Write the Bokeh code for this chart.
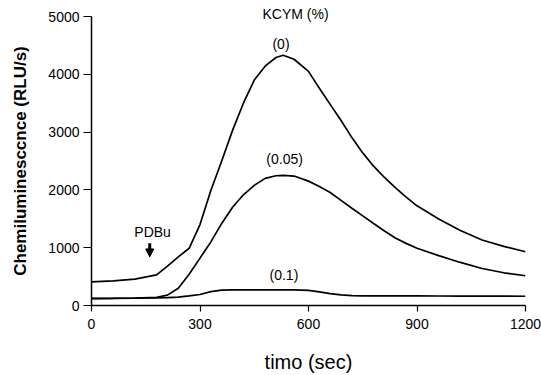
from bokeh.plotting import figure
from bokeh.models import Arrow, NormalHead, ColumnDataSource, FixedTicker, Label, Title
from bokeh.embed import file_html
from bokeh.resources import INLINE

# ---- data ----
time_s = [0, 60, 120, 180, 210, 240, 270, 300, 330, 360, 390, 420, 450, 480, 510, 530,
          560, 600, 630, 660, 690, 720, 750, 780, 810, 840, 870, 900, 960, 1020, 1080, 1140, 1200]
kcym_0 = [410, 425, 455, 530, 680, 840, 990, 1400, 1990, 2500, 3030, 3500, 3900, 4140, 4290, 4330,
          4260, 4050, 3760, 3480, 3200, 2905, 2640, 2410, 2215, 2040, 1874, 1725, 1495, 1297, 1134, 1023, 930]
kcym_005 = [125, 125, 130, 140, 180, 300, 540, 820, 1100, 1420, 1700, 1915, 2078, 2200, 2245, 2252,
            2240, 2152, 2060, 1954, 1818, 1682, 1550, 1418, 1290, 1169, 1075, 990, 862, 745, 640, 566, 515]
kcym_01 = [120, 122, 125, 130, 135, 145, 165, 190, 240, 265, 270, 270, 270, 270, 270, 270,
           270, 262, 235, 205, 185, 172, 166, 165, 165, 165, 165, 165, 164, 163, 162, 161, 160]

x_ticks = [0, 300, 600, 900, 1200]
y_ticks = [0, 1000, 2000, 3000, 4000, 5000]

header_text = "KCYM (%)"
label_text = ["(0)", "(0.05)", "(0.1)", "PDBu"]
label_x = [524, 534, 532, 169]
label_y = [4520, 2526, 536, 1268]

arrow_x = 161
arrow_y_start = 1075
arrow_y_end = 840

FONT = "Liberation Sans"

p = figure(width=541, height=375, x_range=(0, 1200), y_range=(0, 5000),
           output_backend="svg", toolbar_location=None,
           min_border_left=91, min_border_right=16, min_border_top=16, min_border_bottom=70)
p.outline_line_color = None
p.grid.visible = False
p.background_fill_color = "white"
p.border_fill_color = "white"

src = ColumnDataSource(dict(t=time_s, a=kcym_0, b=kcym_005, c=kcym_01))
for col in ["a", "b", "c"]:
    p.line("t", col, source=src, line_color="black", line_width=1.7)

for t, x, y in zip(label_text, label_x, label_y):
    p.add_layout(Label(x=x, y=y, text=t, text_font=FONT, text_font_size="14px",
                       text_align="center", text_baseline="middle", text_color="black"))

p.add_layout(Title(text=header_text, align="left", offset=171, standoff=-11,
                   text_font=FONT, text_font_size="14px", text_font_style="normal",
                   text_color="black"), "above")

p.add_layout(Arrow(end=NormalHead(size=8, fill_color="black", line_color="black"),
                   x_start=arrow_x, y_start=arrow_y_start, x_end=arrow_x, y_end=arrow_y_end,
                   line_width=3, line_color="black"))

p.xaxis.ticker = FixedTicker(ticks=x_ticks)
p.yaxis.ticker = FixedTicker(ticks=y_ticks)
for ax in (p.xaxis, p.yaxis):
    ax.minor_tick_line_color = None
    ax.major_tick_in = 0
    ax.axis_line_color = "black"
    ax.axis_line_width = 1.5
    ax.major_tick_line_color = "black"
    ax.major_tick_line_width = 1.2
    ax.major_label_text_font = FONT
    ax.major_label_text_font_size = "14px"
    ax.major_label_text_color = "black"
    ax.axis_label_text_color = "black"
    ax.axis_label_text_font = FONT

p.xaxis.major_tick_out = 6
p.xaxis.major_label_standoff = 7
p.xaxis.axis_label = "timo (sec)"
p.xaxis.axis_label_text_font_size = "20px"
p.xaxis.axis_label_text_font_style = "normal"
p.xaxis.axis_label_standoff = 19

p.yaxis.major_tick_out = 8
p.yaxis.major_label_standoff = 4
p.yaxis.axis_label = "Chemiluminesccnce (RLU/s)"
p.yaxis.axis_label_text_font_size = "17px"
p.yaxis.axis_label_text_font_style = "bold"
p.yaxis.axis_label_standoff = 15

open("out.html", "w").write(file_html(p, INLINE))
